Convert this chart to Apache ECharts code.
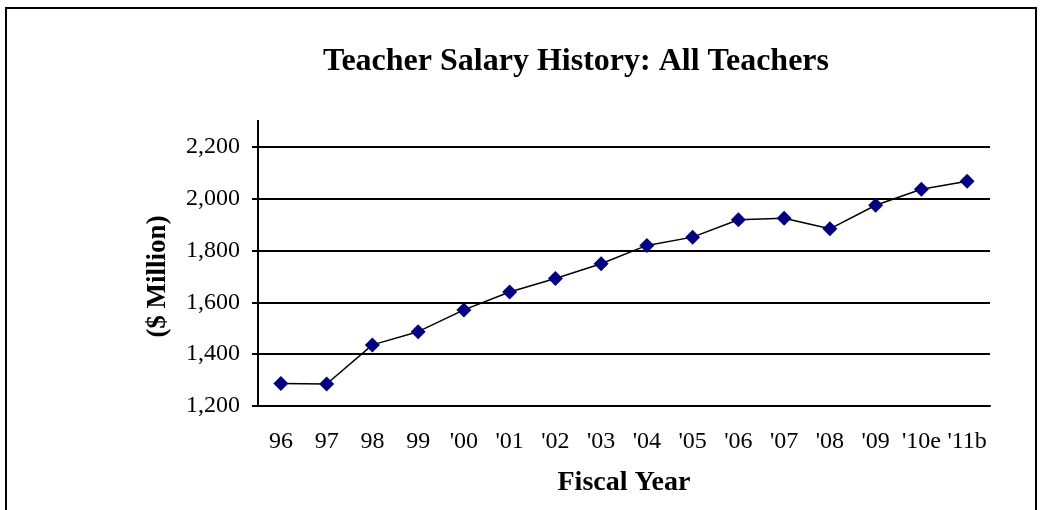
<!DOCTYPE html>
<html>
	<head>
		<meta charset="utf-8">
		<title>Teacher Salary History</title>
		<style>
			html, body {
				margin: 0;
				padding: 0;
				background: #fff;
			}
			#chart {
				width: 1043px;
				height: 510px;
			}
		</style>
		<script src="https://cdn.jsdelivr.net/npm/echarts@6/dist/echarts.min.js"></script>
	</head>

	<body>
		<div id="chart"></div>
		<script>
			// fiscal years and salary totals ($ million)
			var years = ['96', '97', '98', '99', "'00", "'01", "'02", "'03", "'04", "'05", "'06", "'07", "'08", "'09", "'10e", "'11b"];
			var salary = [1287, 1285, 1436, 1487, 1571, 1640, 1692, 1749, 1820, 1852, 1919, 1925, 1884, 1975, 2037, 2068];
			var yMin = 1200;
			var yMax = 2200;
			var yStep = 200;

			var serif = '"Liberation Serif", "Times New Roman", serif';
			var chart = echarts.init(document.getElementById('chart'));

			chart.setOption({
				animation: false,
				backgroundColor: '#fff',
				title: {
					text: 'Teacher Salary History: All Teachers',
					left: 318,
					top: 41,
					textStyle: {
						fontFamily: serif,
						fontSize: 32,
						fontWeight: 'bold',
						color: '#000'
					}
				},
				grid: {
					left: 258,
					right: 53,
					top: 147,
					bottom: 104
				},
				xAxis: {
					type: 'category',
					data: years,
					boundaryGap: true,
					name: 'Fiscal Year',
					nameLocation: 'middle',
					nameGap: 63,
					nameTextStyle: {
						fontFamily: serif,
						fontSize: 28,
						fontWeight: 'bold',
						color: '#000'
					},
					axisLine: { lineStyle: { color: '#000', width: 2 } },
					axisTick: {
						length: 7,
						lineStyle: { color: '#000', width: 2 }
					},
					axisLabel: {
						interval: 0,
						margin: 24,
						fontFamily: serif,
						fontSize: 24,
						color: '#000'
					},
					splitLine: { show: false }
				},
				yAxis: {
					type: 'value',
					min: yMin,
					max: yMax,
					interval: yStep,
					name: '($ Million)',
					nameLocation: 'middle',
					nameGap: 86,
					nameTextStyle: {
						fontFamily: serif,
						fontSize: 27,
						fontWeight: 'bold',
						color: '#000'
					},
					axisLine: { show: true, lineStyle: { color: '#000', width: 2 } },
					axisTick: {
						show: true,
						length: 6,
						lineStyle: { color: '#000', width: 2 }
					},
					axisLabel: {
						margin: 18,
						fontFamily: serif,
						fontSize: 24,
						color: '#000',
						formatter: function (v) {
							return v.toLocaleString('en-US');
						}
					},
					splitLine: { lineStyle: { color: '#000', width: 2 } }
				},
				graphic: [
					// outer frame
					{
						type: 'rect',
						shape: { x: 6, y: 8, width: 1030, height: 530 },
						style: { fill: 'none', stroke: '#000', lineWidth: 2 },
						silent: true
					},
					// y axis runs a bit above the top gridline
					{
						type: 'line',
						shape: { x1: 258, y1: 120, x2: 258, y2: 148 },
						style: { stroke: '#000', lineWidth: 2 },
						silent: true
					}
				],
				series: [{
					name: 'Salary',
					type: 'line',
					data: salary,
					symbol: 'diamond',
					symbolSize: 15,
					itemStyle: { color: '#000080' },
					lineStyle: { color: '#000', width: 1.5 }
				}]
			});
		</script>
	</body>
</html>
